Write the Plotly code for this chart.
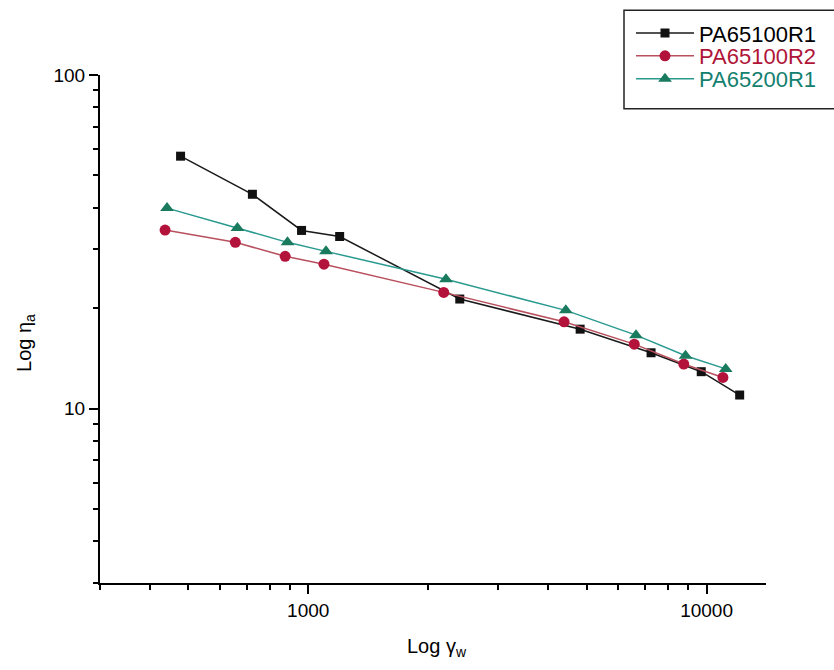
import plotly.graph_objects as go
import math

# Data (log-log)
x_r1 = [478, 724, 962, 1199, 2401, 4815, 7255, 9697, 12110]
y_r1 = [57.1, 43.9, 34.2, 32.8, 21.3, 17.3, 14.7, 12.9, 10.98]

x_r2 = [437, 656, 875, 1095, 2188, 4388, 6584, 8765, 10990]
y_r2 = [34.3, 31.5, 28.6, 27.1, 22.3, 18.2, 15.6, 13.6, 12.4]

x_r3 = [442, 664, 887, 1108, 2217, 4432, 6650, 8855, 11170]
y_r3 = [39.9, 34.8, 31.5, 29.6, 24.4, 19.7, 16.6, 14.4, 13.15]

names = ["PA65100R1", "PA65100R2", "PA65200R1"]
x_major = [1000, 10000]
x_minor = [300, 400, 500, 600, 700, 800, 900, 2000, 3000, 4000, 5000, 6000, 7000, 8000, 9000]
y_major = [10, 100]
y_minor = [3, 4, 5, 6, 7, 8, 9, 20, 30, 40, 50, 60, 70, 80, 90]

W, H = 834, 670
L, R, T, B = 100, 766, 73, 583
FONT = "Liberation Sans, Arial"

fig = go.Figure()
fig.add_trace(go.Scatter(
    x=x_r1, y=y_r1, mode="lines+markers", name=names[0], legend="legend",
    line=dict(color="#1a1a1a", width=1.5),
    marker=dict(symbol="square", size=9, color="#111111"),
))
fig.add_trace(go.Scatter(
    x=x_r2, y=y_r2, mode="lines+markers", legend="legend2",
    name='<span style="color:#b01538">' + names[1] + '</span>',
    line=dict(color="#b8505e", width=1.5),
    marker=dict(symbol="circle", size=11, color="#b3123a"),
))
fig.add_trace(go.Scatter(
    x=x_r3, y=y_r3, mode="lines+markers", legend="legend3",
    name='<span style="color:#138070">' + names[2] + '</span>',
    line=dict(color="#2a9a90", width=1.5),
    marker=dict(symbol="triangle-up", size=12, color="#197a5e"),
))

axis_common = dict(
    showgrid=False, zeroline=False, showline=True, linecolor="black", linewidth=2,
    ticks="outside", ticklen=9, tickwidth=2, tickcolor="black",
    tickfont=dict(family=FONT, size=19, color="black"),
    mirror=False,
)

fig.update_xaxes(
    type="log", range=[math.log10(300), math.log10(14100)],
    tickvals=x_major, ticktext=[str(v) for v in x_major],
    minor=dict(tickvals=x_minor, ticks="outside", ticklen=5, tickwidth=2, tickcolor="black", showgrid=False),
    **axis_common,
)
fig.update_yaxes(
    type="log", range=[math.log10(3), 2],
    tickvals=y_major, ticktext=[str(v) for v in y_major],
    minor=dict(tickvals=y_minor, ticks="outside", ticklen=5, tickwidth=2, tickcolor="black", showgrid=False),
    **axis_common,
)

pw, ph = R - L, B - T
def px(xp):
    return (xp - L) / pw
def py(yp):
    return (B - yp) / ph

# axis titles
fig.add_annotation(text="Log γ<sub>w</sub>", xref="paper", yref="paper",
                   x=px(437), y=py(648), xanchor="center", yanchor="middle", showarrow=False,
                   font=dict(family=FONT, size=20, color="black"))
fig.add_annotation(text="Log η<sub>a</sub>", xref="paper", yref="paper",
                   x=px(26), y=py(342), xanchor="center", yanchor="middle", showarrow=False, textangle=-90,
                   font=dict(family=FONT, size=20, color="black"))

# legend frame
fig.add_shape(type="rect", xref="paper", yref="paper",
              x0=px(624), x1=px(845), y0=py(107), y1=py(8),
              line=dict(color="#222222", width=1.5), fillcolor="rgba(0,0,0,0)")

leg_common = dict(
    xanchor="left", yanchor="middle",
    bgcolor="rgba(0,0,0,0)", borderwidth=0,
    font=dict(family=FONT, size=22, color="black"),
    itemwidth=58,
)
fig.update_layout(
    width=W, height=H,
    margin=dict(l=L, r=W - R, t=T, b=H - B, pad=0),
    paper_bgcolor="white", plot_bgcolor="white",
    showlegend=True,
    legend=dict(x=px(631), y=py(31), **leg_common),
    legend2=dict(x=px(631), y=py(54), **leg_common),
    legend3=dict(x=px(631), y=py(77), **leg_common),
    font=dict(family=FONT, color="black"),
)

fig.write_html("out.html")
